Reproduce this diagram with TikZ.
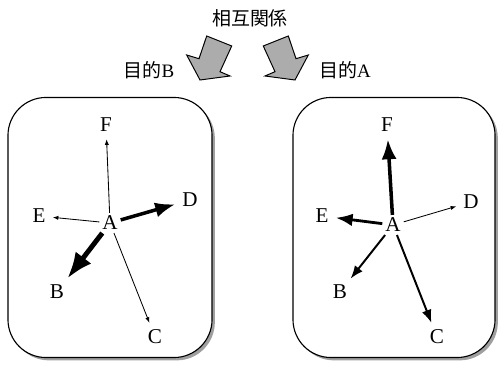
\documentclass[tikz,border=0pt]{standalone}
\usepackage{fontspec}
\setmainfont{Liberation Serif}
\newfontfamily\cjk{Noto Sans CJK JP}
\usetikzlibrary{arrows.meta, shadows}

\begin{document}
\begin{tikzpicture}[
    x=0.025cm, y=-0.025cm,
    >=Latex,
    panel/.style={
        draw,
        line width=0.8pt,
        rounded corners=0.95cm,
        fill=white,
        inner sep=0pt,
        drop shadow={shadow xshift=2pt, shadow yshift=-2pt, fill=gray!75, opacity=1}
    },
    bigarrow/.style={
        draw,
        line width=0.7pt,
        line join=miter,
        fill=gray!65
    },
    letter/.style={
        font=\fontsize{15}{17}\selectfont,
        inner sep=2pt
    },
    caption/.style={
        font=\fontsize{13.5}{15}\selectfont
    },
    thin/.style={->, line width=0.6pt, shorten >=3pt, >={Latex[length=4pt, width=3pt]}},
    medium/.style={->, line width=1.4pt, shorten >=3pt},
    strong/.style={->, line width=2pt, shorten >=3pt},
    heavy/.style={->, line width=2.5pt, shorten >=3pt},
    heaviest/.style={->, line width=3.5pt, shorten >=3pt}
]
\useasboundingbox (0,0) rectangle (498,366);

% Title and block arrows
\node[font=\fontsize{13.5}{15}\selectfont\cjk] (rel) at (250,18) {相互関係};

\draw[bigarrow] (200,80) -- (186.7,55) -- (199,58.7) -- (206.7,36)
    -- (231.7,46) -- (220,71.7) -- (230,76) -- cycle;
\draw[bigarrow] (295,80) -- (308.3,55) -- (296,58.7) -- (288.3,36)
    -- (263.3,46) -- (275,71.7) -- (265,76) -- cycle;

\node[caption] (goalB) at (149,70) {{\cjk 目的}B};
\node[caption] (goalA) at (345,70) {{\cjk 目的}A};

% Panels
\node[panel, minimum width=5.1cm, minimum height=6.5cm] (lpanel) at (110,227.5) {};
\node[panel, minimum width=5.05cm, minimum height=6.5cm] (rpanel) at (394,227.5) {};

% Left panel (goal B)
\node[letter] (lA) at (110,223) {A};
\node[letter] (lF) at (106,125) {F};
\node[letter] (lD) at (190,200) {D};
\node[letter] (lE) at (39,216) {E};
\node[letter] (lB) at (57,292) {B};
\node[letter] (lC) at (155,337) {C};

\draw[thin] (lA) -- (lF);
\draw[heavy] (lA) -- (lD);
\draw[thin] (lA) -- (lE);
\draw[heaviest] (lA) -- (lB);
\draw[thin] (lA) -- (lC);

% Right panel (goal A)
\node[letter] (rA) at (393,225) {A};
\node[letter] (rF) at (387,125) {F};
\node[letter] (rD) at (471,202) {D};
\node[letter] (rE) at (322,216) {E};
\node[letter] (rB) at (340,292) {B};
\node[letter] (rC) at (437,337) {C};

\draw[heavy] (rA) -- (rF);
\draw[thin] (rA) -- (rD);
\draw[strong] (rA) -- (rE);
\draw[medium] (rA) -- (rB);
\draw[medium] (rA) -- (rC);

\end{tikzpicture}
\end{document}
